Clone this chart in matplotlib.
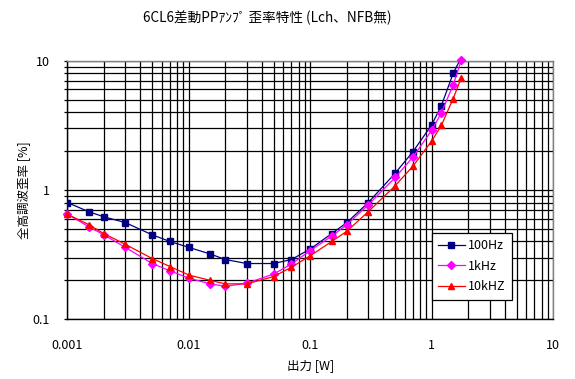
import numpy as np
import matplotlib
matplotlib.use("Agg")
import matplotlib.pyplot as plt
from matplotlib.ticker import FixedLocator, FixedFormatter, LogLocator, NullFormatter

plt.rcParams['font.family'] = ['Noto Sans CJK JP', 'DejaVu Sans']

# output power [W]
power = [0.001, 0.0015, 0.002, 0.003, 0.005, 0.007, 0.01, 0.015, 0.02, 0.03, 0.05,
         0.07, 0.1, 0.15, 0.2, 0.3, 0.5, 0.7, 1.0, 1.2, 1.5, 1.75]

# total harmonic distortion [%]
thd_100hz = [0.80, 0.68, 0.62, 0.56, 0.45, 0.40, 0.36, 0.32, 0.29, 0.27, 0.27,
             0.29, 0.35, 0.46, 0.56, 0.80, 1.35, 1.98, 3.2, 4.5, 8.0, 10.6]
thd_1khz = [0.65, 0.52, 0.45, 0.36, 0.27, 0.237, 0.208, 0.188, 0.18, 0.19, 0.224,
            0.268, 0.34, 0.44, 0.54, 0.77, 1.25, 1.80, 2.9, 3.96, 6.5, 10.1]
thd_10khz = [0.65, 0.54, 0.46, 0.38, 0.295, 0.256, 0.22, 0.20, 0.188, 0.188, 0.214,
             0.253, 0.31, 0.40, 0.48, 0.68, 1.08, 1.53, 2.4, 3.17, 5.1, 7.4]

series_labels = ['100Hz', '1kHz', '10kHZ']
x_ticks = [0.001, 0.01, 0.1, 1, 10]
x_ticklabels = ['0.001', '0.01', '0.1', '1', '10']
y_ticks = [0.1, 1, 10]
y_ticklabels = ['0.1', '1', '10']

fig = plt.figure(figsize=(5.75, 3.79), dpi=100)
ax = fig.add_axes([67.3 / 575, 1 - 319.3 / 379, (553.3 - 67.3) / 575, (319.3 - 60.7) / 379])

# 100Hz last point is above 10% -> clipped by the plot area
ax.plot(power, thd_100hz, color='#000080', lw=0.9, marker='s', ms=4.2,
        label=series_labels[0], zorder=3)
ax.plot(power, thd_1khz, color='#FF00FF', lw=0.9, marker='D', ms=3.6,
        label=series_labels[1], zorder=4, clip_on=False)
ax.plot(power, thd_10khz, color='#FF0000', lw=0.9, marker='^', ms=4.8,
        label=series_labels[2], zorder=5, clip_on=False)

ax.set_xscale('log')
ax.set_yscale('log')
ax.set_xlim(0.001, 10)
ax.set_ylim(0.1, 10)

ax.xaxis.set_major_locator(FixedLocator(x_ticks))
ax.xaxis.set_major_formatter(FixedFormatter(x_ticklabels))
ax.yaxis.set_major_locator(FixedLocator(y_ticks))
ax.yaxis.set_major_formatter(FixedFormatter(y_ticklabels))
ax.xaxis.set_minor_locator(LogLocator(base=10, subs=np.arange(2, 10), numticks=20))
ax.yaxis.set_minor_locator(LogLocator(base=10, subs=np.arange(2, 10), numticks=20))
ax.xaxis.set_minor_formatter(NullFormatter())
ax.yaxis.set_minor_formatter(NullFormatter())

ax.grid(True, which='both', color='black', lw=0.9)
ax.tick_params(axis='x', which='both', length=0, pad=14, labelsize=9)
ax.tick_params(axis='y', which='both', length=2.5, width=0.9, pad=10, labelsize=9)

for s in ['left', 'bottom']:
    ax.spines[s].set_color('black')
    ax.spines[s].set_linewidth(1)
for s in ['top', 'right']:
    ax.spines[s].set_color('#808080')
    ax.spines[s].set_linewidth(1)

ax.set_xlabel('出力 [W]', fontsize=9, labelpad=5)
ax.set_ylabel('全高調波歪率 [%]', fontsize=9, labelpad=2)

fig.text(267 / 575, 1 - 18 / 379, '6CL6差動PPｱﾝﾌﾟ 歪率特性 (Lch、NFB無)',
         ha='center', va='center', fontsize=9.8)

leg = ax.legend(loc='upper left', bbox_to_anchor=((432 - 67.3) / 486, (319.3 - 233) / 258.6),
                fontsize=9, frameon=True, fancybox=False, framealpha=1,
                edgecolor='black', handlelength=2.1, borderpad=0.5,
                labelspacing=0.6, handletextpad=0.3, borderaxespad=0)
leg.get_frame().set_linewidth(0.9)

fig.savefig('out.png', dpi=100)
